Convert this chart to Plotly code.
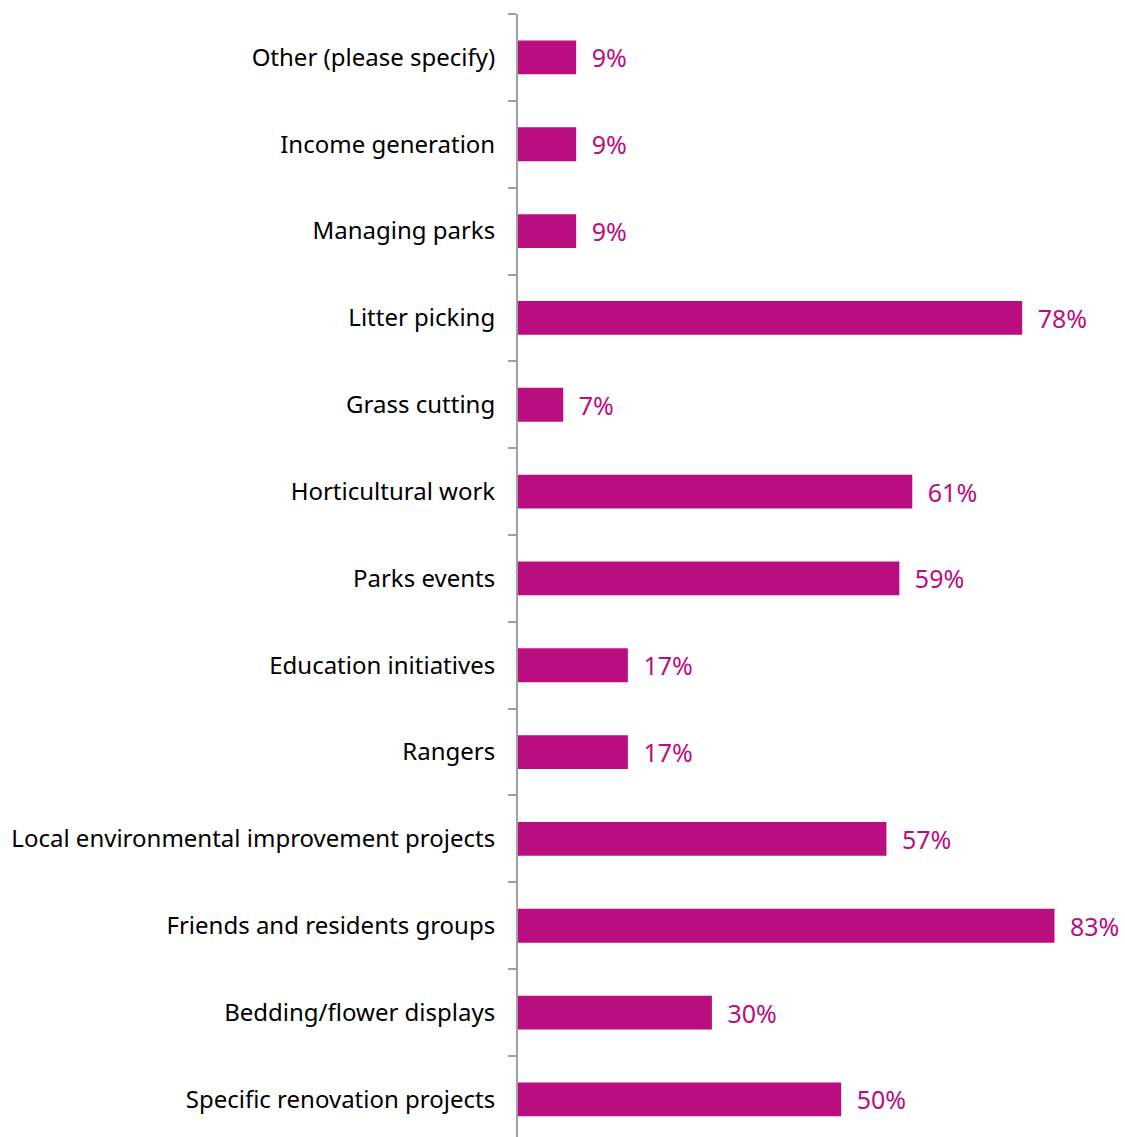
import plotly.graph_objects as go

# Activities, listed bottom-to-top as they appear on the category axis
activities = [
    "Specific renovation projects",
    "Bedding/flower displays",
    "Friends and residents groups",
    "Local environmental improvement projects",
    "Rangers",
    "Education initiatives",
    "Parks events",
    "Horticultural work",
    "Grass cutting",
    "Litter picking",
    "Managing parks",
    "Income generation",
    "Other (please specify)",
]
shares = [50, 30, 83, 57, 17, 17, 59, 61, 7, 78, 9, 9, 9]

BAR_COLOR = "#BA0E80"
FONT = "Noto Sans"

fig = go.Figure(
    go.Bar(
        x=shares,
        y=activities,
        orientation="h",
        marker=dict(color=BAR_COLOR, line=dict(width=0)),
        text=[f"\u2002{v}%" for v in shares],
        textposition="outside",
        constraintext="none",
        textfont=dict(color=BAR_COLOR, size=25, family=FONT),
        cliponaxis=False,
        width=0.39,
    )
)

fig.update_layout(
    width=1125,
    height=1137,
    margin=dict(l=518, r=2, t=14, b=0),
    paper_bgcolor="white",
    plot_bgcolor="white",
    showlegend=False,
    font=dict(family=FONT, size=24, color="black"),
)

fig.update_xaxes(
    range=[0, 93.6],
    visible=False,
)

fig.update_yaxes(
    type="category",
    range=[-0.433, 12.5],
    showline=True,
    linecolor="#A0A0A0",
    linewidth=2,
    ticks="outside",
    tickson="boundaries",
    ticklen=8,
    tickcolor="#A0A0A0",
    tickwidth=2,
    showgrid=False,
    ticklabelstandoff=16,
    tickfont=dict(size=24, family=FONT, color="black"),
)

fig.write_html("out.html")
